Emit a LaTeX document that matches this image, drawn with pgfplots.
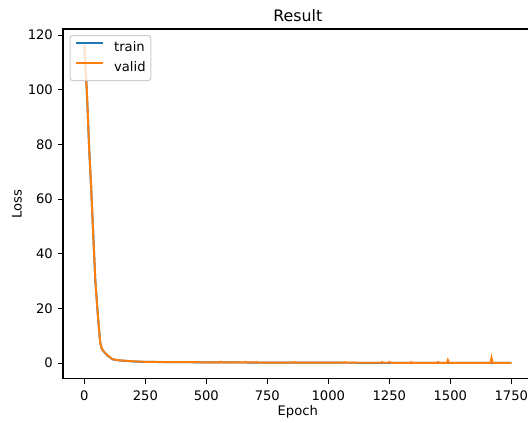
\documentclass[border=0pt]{standalone}
\usepackage{fontspec}
\setmainfont{DejaVu Sans}
\usepackage{pgfplots}
\pgfplotsset{compat=1.18}
\definecolor{tabblue}{RGB}{31,119,180}
\definecolor{taborange}{RGB}{255,127,14}
\begin{document}
\begin{tikzpicture}
\begin{axis}[
  at={(0,0)}, anchor=south west,
  scale only axis, width=357.1pt, height=266.1pt,
  xmin=-87.5, xmax=1837.5, ymin=-5.82, ymax=122.22,
  xtick={0,250,...,1750}, ytick={0,20,...,120},
  tick pos=left, tick align=outside,
  major tick length=3.5pt,
  every tick/.style={black, line width=0.8pt},
  axis line style={black, line width=0.8pt},
  /pgf/number format/assume math mode=true,
  /pgf/number format/1000 sep={},
  tick label style={font=\fontsize{10}{12}\selectfont, inner sep=0pt},
  xticklabel style={anchor=north, yshift=-5.6pt},
  yticklabel style={anchor=east, xshift=-4pt},
  scaled ticks=false,
  title={Result},
  title style={at={(axis description cs:0.5,1)}, anchor=base, yshift=0pt, font=\fontsize{12}{14}\selectfont, inner sep=0pt},
  xlabel={Epoch},
  xlabel style={at={(axis description cs:0.5,0)}, anchor=base, yshift=-27.9pt, font=\fontsize{10}{12}\selectfont, inner sep=0pt},
  ylabel={Loss},
  ylabel style={at={(axis description cs:0,0.5)}, anchor=base, yshift=31.5pt, font=\fontsize{10}{12}\selectfont, inner sep=0pt},
  legend style={at={(axis description cs:0,1)}, anchor=north west, xshift=5pt, yshift=-4.6pt,
    draw={rgb,255:red,204;green,204;blue,204}, line width=0.8pt, rounded corners=2pt,
    fill=white, fill opacity=0.8, text opacity=1,
    font=\fontsize{10}{12}\selectfont,
    inner xsep=4pt, inner ysep=4.4pt, row sep=5.4pt,
    nodes={inner sep=0pt, text height=7.5pt, text depth=2.5pt}},
  legend cell align=left,
  /tikz/every odd column/.append style={column sep=8pt},
  legend image code/.code={\draw[#1] (0pt,3.6pt) -- (20pt,3.6pt);},
]
\addplot[tabblue, line width=1.5pt] coordinates {
(0,116.3) (5,108) (10,99.8) (15,89.5) (20,78) (27,66) (35,50) (45,30.3) (55,18) (65,7.5) (71,5.3)
(80,4.1) (95,2.7) (116,1.35) (130,1.1) (150,0.9) (175,0.75) (205,0.55) (250,0.42) (300,0.37)
(350,0.33) (400,0.3) (450,0.28) (500,0.25) (600,0.21) (700,0.18) (800,0.15) (900,0.13)
(1000,0.12) (1100,0.1) (1200,0.09) (1300,0.08) (1400,0.07) (1500,0.07) (1600,0.06) (1700,0.05) (1750,0.05)
};
\addplot[taborange, line width=1.5pt] coordinates {
(0,116.4) (5,108) (10,100) (15,89.5) (20,78) (27,66) (35,50) (45,30.4) (55,18) (65,7.5) (71,5.4)
(80,4.2) (95,2.8) (116,1.4) (130,1.15) (150,0.95) (175,0.8) (205,0.6) (250,0.45) (300,0.4)
(350,0.35) (400,0.32) (450,0.3) (500,0.27) (555,0.25) (560,0.5) (565,0.25) (600,0.22)
(655,0.2) (660,0.45) (665,0.2) (700,0.2) (705,0.4) (710,0.18) (800,0.16) (855,0.15) (860,0.4) (865,0.15)
(900,0.14) (1000,0.13) (1065,0.12) (1070,0.35) (1075,0.12) (1100,0.11) (1215,0.1) (1220,0.35) (1225,0.1)
(1245,0.1) (1250,0.4) (1255,0.1) (1300,0.09) (1335,0.09) (1340,0.3) (1345,0.09) (1400,0.08)
(1445,0.08) (1450,0.35) (1455,0.08) (1486,0.08) (1490,1.1) (1494,0.3) (1498,0.08) (1600,0.07)
(1665,0.07) (1669,1.9) (1673,0.4) (1677,0.07) (1700,0.06) (1750,0.06)
};
\legend{train,valid}
\end{axis}
\pgfresetboundingbox
\useasboundingbox (-47.9pt,-33.5pt) rectangle (353.6pt,288.15pt);
\end{tikzpicture}
\end{document}
